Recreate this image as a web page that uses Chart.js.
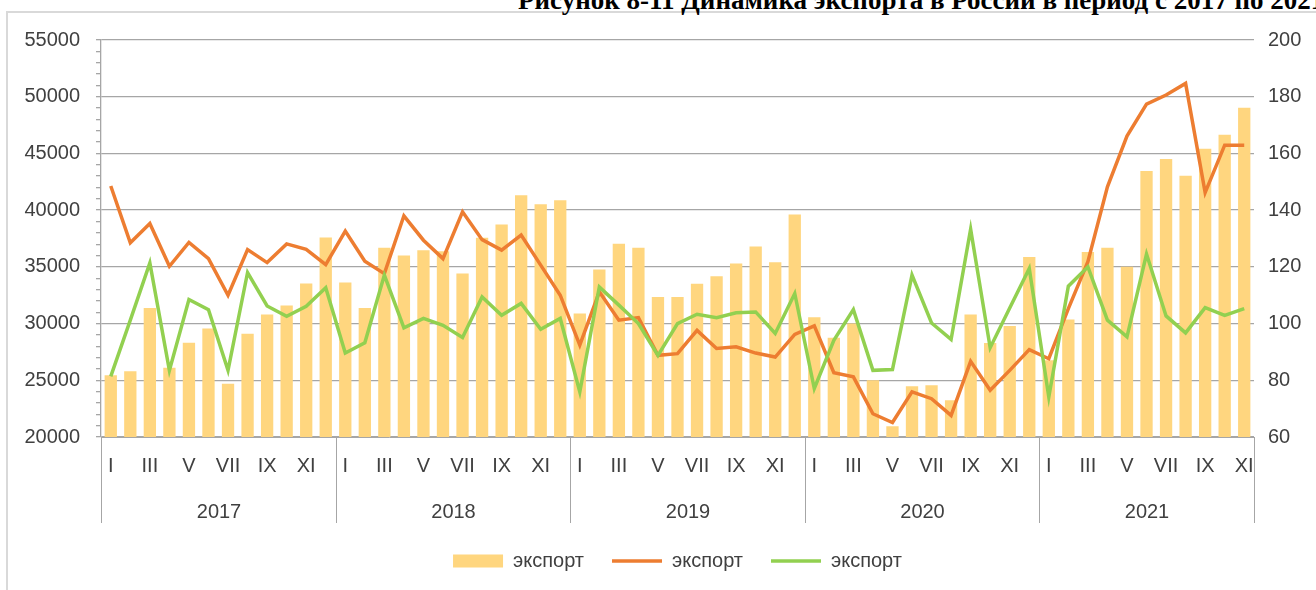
<!DOCTYPE html>
<html lang="ru">
<head>
<meta charset="utf-8">
<title>Динамика экспорта</title>
<script src="https://cdn.jsdelivr.net/npm/chart.js@4.4.1/dist/chart.umd.min.js"></script>
<style>
  html, body { margin: 0; padding: 0; background: #fff; overflow: hidden; }
  #wrap { position: relative; width: 1316px; height: 590px; overflow: hidden; }
  #frame {
    position: absolute; left: 6px; top: 11px; right: 0; bottom: 0;
    border-top: 2px solid #d9d9d9; border-left: 2px solid #d9d9d9;
  }
  #title {
    position: absolute; left: 518px; top: -15px; white-space: nowrap;
    font: bold 27px "Liberation Serif", "Times New Roman", serif; color: #000;
  }
  #chartBox { position: absolute; left: 0; top: 0; width: 1316px; height: 590px; }
</style>
</head>
<body>
<div id="wrap">
  <div id="frame"></div>
  <div id="title">Рисунок 8-11 Динамика экспорта в России в период с 2017 по 2021</div>
  <div id="chartBox"><canvas id="exportChart"></canvas></div>
</div>
<script>
const years = ["2017", "2018", "2019", "2020", "2021"];
const romanMonths = ["I", "II", "III", "IV", "V", "VI", "VII", "VIII", "IX", "X", "XI", "XII"];
const monthsShown = 59; // 2017 I ... 2021 XI

// bars, left axis
const exportValues = [
  25440, 25800, 31380, 26100, 28320, 29560, 24700, 29100, 30800, 31600, 33530, 37590,
  33620, 31380, 36680, 36000, 36470, 36380, 34410, 37560, 38730, 41320, 40530, 40880,
  30880, 34760, 37030, 36680, 32350, 32350, 33500, 34180, 35290, 36790, 35410, 39620,
  30560, 28760, 30000, 25000, 20940, 24470, 24560, 23240, 30790, 28290, 29790, 35880,
  26760, 30350, 36320, 36680, 35000, 43440, 44500, 43030, 45410, 46650, 49030
];

// orange line, right axis
const exportIndexA = [
  148.5, 128.5, 135.3, 120.2, 128.6, 122.9, 110.0, 126.1, 121.5, 128.1, 126.2, 120.8,
  132.6, 122.0, 117.6, 138.0, 129.4, 122.9, 139.4, 129.6, 125.9, 131.2, 120.6, 110.0,
  92.4, 111.2, 101.2, 102.1, 88.8, 89.4, 97.6, 91.2, 91.8, 89.6, 88.2, 96.2,
  99.2, 82.7, 81.2, 68.2, 65.1, 75.9, 73.5, 67.6, 86.7, 76.5, 83.5, 90.8,
  87.6, 105.3, 121.8, 148.2, 166.1, 177.4, 180.6, 184.7, 146.2, 162.9, 162.9
];

// green line, right axis
const exportIndexB = [
  81.4, 101.2, 121.4, 83.5, 108.5, 104.9, 83.5, 118.0, 106.2, 102.6, 106.1, 112.6,
  89.6, 93.2, 117.1, 98.5, 101.8, 99.4, 95.1, 109.4, 102.9, 107.1, 98.0, 101.8,
  75.9, 112.9, 106.5, 100.0, 88.8, 100.0, 103.3, 102.1, 103.8, 104.1, 96.5, 110.6,
  77.1, 94.1, 104.9, 83.5, 83.8, 117.1, 100.2, 94.4, 133.3, 91.5, 105.5, 119.4,
  74.1, 113.2, 120.0, 101.2, 95.3, 124.5, 102.7, 96.7, 105.6, 102.9, 105.3
];

const seriesNames = ["экспорт", "экспорт", "экспорт"];

const monthLabels = years.flatMap(() => romanMonths).slice(0, monthsShown);

// pick a narrow sans if it is installed
function pickFont() {
  const c = document.createElement("canvas").getContext("2d");
  c.font = "25px 'Liberation Sans Narrow', monospace";
  const a = c.measureText("55000 экспорт").width;
  c.font = "25px 'Liberation Sans Narrow', serif";
  const b = c.measureText("55000 экспорт").width;
  if (a === b) return { family: "'Liberation Sans Narrow'", size: 25 };
  return { family: "'Liberation Sans', Arial, sans-serif", size: 20 };
}

const baseFont = pickFont();
const textColor = "#404040";
const gridColor = "#a6a6a6";

const yearAxisPlugin = {
  id: "yearAxis",
  afterDraw(chart) {
    const x = chart.scales.x;
    const area = chart.chartArea;
    const ctx = chart.ctx;
    const half = (x.getPixelForValue(1) - x.getPixelForValue(0)) / 2;
    ctx.save();
    ctx.strokeStyle = gridColor;
    ctx.lineWidth = 1;
    ctx.fillStyle = textColor;
    ctx.font = baseFont.size + "px " + baseFont.family;
    ctx.textAlign = "center";
    ctx.textBaseline = "middle";
    years.forEach((year, k) => {
      const first = k * 12;
      const last = Math.min(first + 11, monthsShown - 1);
      const left = Math.round(x.getPixelForValue(first) - half) + 0.5;
      const right = Math.round(x.getPixelForValue(last) + half) + 0.5;
      ctx.beginPath();
      ctx.moveTo(left, area.bottom);
      ctx.lineTo(left, area.bottom + 86);
      if (k === years.length - 1) {
        ctx.moveTo(right, area.bottom);
        ctx.lineTo(right, area.bottom + 86);
      }
      ctx.stroke();
      ctx.fillText(year, (left + right) / 2, area.bottom + 75);
    });
    ctx.restore();
  }
};

const chart = new Chart(document.getElementById("exportChart"), {
  data: {
    labels: monthLabels,
    datasets: [
      {
        type: "bar",
        label: seriesNames[0],
        data: exportValues,
        backgroundColor: "#ffd67f",
        borderWidth: 0,
        categoryPercentage: 1,
        barPercentage: 0.63,
        yAxisID: "y",
        order: 2
      },
      {
        type: "line",
        label: seriesNames[1],
        data: exportIndexA,
        borderColor: "#ed7d31",
        borderWidth: 3.5,
        pointRadius: 0,
        tension: 0,
        yAxisID: "y1",
        order: 1
      },
      {
        type: "line",
        label: seriesNames[2],
        data: exportIndexB,
        borderColor: "#92d050",
        borderWidth: 3.5,
        pointRadius: 0,
        tension: 0,
        yAxisID: "y1",
        order: 0
      }
    ]
  },
  options: {
    responsive: true,
    maintainAspectRatio: false,
    animation: false,
    devicePixelRatio: 1,
    layout: { padding: { top: 40, left: 0, right: 0, bottom: 9 } },
    font: { family: baseFont.family, size: baseFont.size },
    plugins: {
      tooltip: { enabled: false },
      legend: {
        position: "bottom",
        fullSize: false,
        labels: {
          color: textColor,
          font: { family: baseFont.family, size: baseFont.size },
          usePointStyle: true,
          pointStyleWidth: 50,
          boxHeight: 13,
          padding: 28,
          generateLabels: (c) => c.data.datasets.map((ds, i) => ({
            text: ds.label,
            fillStyle: ds.type === "bar" ? ds.backgroundColor : "rgba(0,0,0,0)",
            strokeStyle: ds.type === "bar" ? ds.backgroundColor : ds.borderColor,
            lineWidth: ds.type === "bar" ? 0 : 3.5,
            pointStyle: ds.type === "bar" ? "rect" : "line",
            fontColor: textColor,
            hidden: false,
            datasetIndex: i
          }))
        }
      }
    },
    scales: {
      x: {
        type: "category",
        offset: true,
        grid: { display: false, drawTicks: false },
        border: { display: true, color: gridColor, width: 1 },
        ticks: {
          color: textColor,
          font: { family: baseFont.family, size: baseFont.size },
          autoSkip: false,
          maxRotation: 0,
          padding: 17,
          callback: function (value, index) {
            return index % 2 === 0 ? this.getLabelForValue(value) : "";
          }
        },
        afterFit: (scale) => { scale.height = 86; }
      },
      y: {
        position: "left",
        min: 20000,
        max: 55000,
        grid: {
          color: (c) => (c.tick && c.tick.value % 5000 === 0 ? gridColor : "rgba(0,0,0,0)"),
          tickColor: gridColor,
          tickLength: 5,
          lineWidth: 1.3
        },
        border: { display: true, color: gridColor, width: 1.3 },
        ticks: {
          stepSize: 1000,
          autoSkip: false,
          color: textColor,
          padding: 16,
          font: { family: baseFont.family, size: baseFont.size },
          callback: (v) => (v % 5000 === 0 ? String(v) : "")
        },
        afterFit: (scale) => { scale.width = 101; }
      },
      y1: {
        position: "right",
        min: 60,
        max: 200,
        grid: { display: false, drawTicks: false },
        border: { display: false },
        ticks: {
          stepSize: 20,
          color: textColor,
          padding: 14,
          font: { family: baseFont.family, size: baseFont.size }
        },
        afterFit: (scale) => { scale.width = 62; }
      }
    }
  },
  plugins: [yearAxisPlugin]
});
</script>
</body>
</html>
